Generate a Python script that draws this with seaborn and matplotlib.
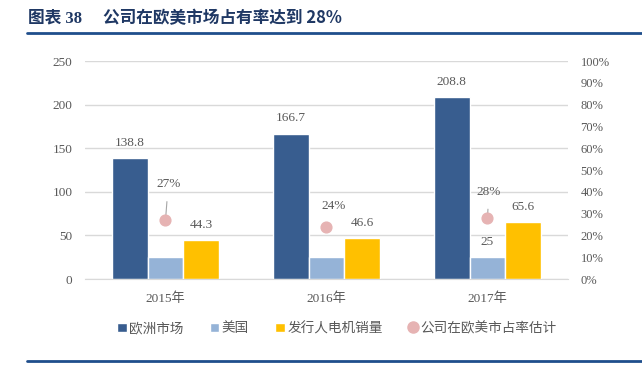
import matplotlib
matplotlib.use('Agg')
import matplotlib.pyplot as plt
import seaborn as sns
import pandas as pd
import numpy as np
from matplotlib.lines import Line2D
from matplotlib.patches import Patch

# 数据
years = ['2015年', '2016年', '2017年']
europe = [138.8, 166.7, 208.8]
usa = [25, 25, 25]
motor_sales = [44.3, 46.6, 65.6]
share = [0.27, 0.24, 0.28]
series_names = ['欧洲市场', '美国', '发行人电机销量']
share_name = '公司在欧美市占率估计'

COLORS = ['#385D8F', '#95B3D7', '#FFC000']
PINK = '#E6B3B3'
GREY = '#595959'
NUM_FONT = ['Liberation Serif', 'Noto Sans CJK SC']
CJK_FONT = ['Noto Sans CJK SC', 'DejaVu Sans']

sns.set_style('white')
plt.rcParams['font.family'] = NUM_FONT

df = pd.DataFrame({
    'year': years * 3,
    'value': europe + usa + motor_sales,
    'series': [s for s in series_names for _ in years],
})

fig = plt.figure(figsize=(6.42, 3.70), dpi=100)
ax = fig.add_axes([0.1324, 0.2459, 0.7523, 0.5892])

sns.barplot(data=df, x='year', y='value', hue='series', hue_order=series_names,
            palette=COLORS, width=0.67, ax=ax, legend=False, saturation=1)

ax.set_ylim(0, 250)
ax.set_yticks(range(0, 251, 50))
ax.set_xlim(-0.5, 2.5)
ax.set_xlabel('')
ax.set_ylabel('')
ax.grid(axis='y', color='#D9D9D9', linewidth=1)
ax.set_axisbelow(True)
for s in ['top', 'right', 'left']:
    ax.spines[s].set_visible(False)
ax.spines['bottom'].set_color('#D9D9D9')
ax.tick_params(axis='both', length=0, colors=GREY, labelsize=9.5)
ax.tick_params(axis='y', pad=9)
ax.tick_params(axis='x', pad=10)
for lab in ax.get_xticklabels():
    lab.set_family(NUM_FONT)

# 柱状图数值标签
for i, cont in enumerate(ax.containers):
    for j, bar in enumerate(cont):
        if i == 1 and j < 2:
            continue
        h = bar.get_height()
        ax.annotate(f'{h:g}' if i == 1 else f'{h:.1f}',
                    (bar.get_x() + bar.get_width() / 2, h),
                    xytext=(0, 11), textcoords='offset points',
                    ha='center', va='center', fontsize=9.5, color=GREY)

# 右轴：市占率
ax2 = ax.twinx()
ax2.set_ylim(0, 1)
ax2.set_yticks(np.arange(0, 1.01, 0.1))
ax2.set_yticklabels([f'{int(round(t * 100))}%' for t in np.arange(0, 1.01, 0.1)])
ax2.tick_params(axis='y', length=0, colors=GREY, labelsize=9, pad=9)
for s in ax2.spines.values():
    s.set_visible(False)
xpos = np.arange(len(years))
ax2.scatter(xpos, share, s=60, color=PINK, zorder=5)
offsets = [(2, 26), (5, 15), (1, 19)]
for x, v, off in zip(xpos, share, offsets):
    ax2.annotate(f'{int(round(v * 100))}%', (x, v), xytext=off,
                 textcoords='offset points', ha='center', va='center',
                 fontsize=9.5, color=GREY,
                 arrowprops=dict(arrowstyle='-', color='#A6A6A6', lw=0.8,
                                 shrinkA=6, shrinkB=2))

# 图例
handles = [Patch(facecolor=c, label=n) for c, n in zip(COLORS, series_names)]
handles.append(Line2D([], [], marker='o', linestyle='', markersize=8,
                      markerfacecolor=PINK, markeredgecolor=PINK, label=share_name))
fig.legend(handles=handles, loc='center', bbox_to_anchor=(0.525, 0.113),
           ncol=4, frameon=False, handlelength=0.7, handleheight=0.7,
           handletextpad=0.2, columnspacing=1.9,
           prop={'family': CJK_FONT, 'size': 9.8}, labelcolor=GREY)

# 标题及分隔线
fig.text(0.044, 0.95, '图表 38', fontsize=12, fontweight='bold',
         color='#1F3864', family=['Liberation Serif', 'Noto Sans CJK SC'],
         va='center')
fig.text(0.16, 0.95, '公司在欧美市场占有率达到 28%', fontsize=12,
         fontweight='bold', color='#1F3864',
         family=['Noto Sans CJK SC', 'DejaVu Sans'], va='center')
fig.add_artist(Line2D([0.042, 1.0], [0.912, 0.912], color='#1F4E8C', lw=2))
fig.add_artist(Line2D([0.042, 1.0], [0.025, 0.025], color='#1F4E8C', lw=2))

fig.savefig('out.png', dpi=100)
